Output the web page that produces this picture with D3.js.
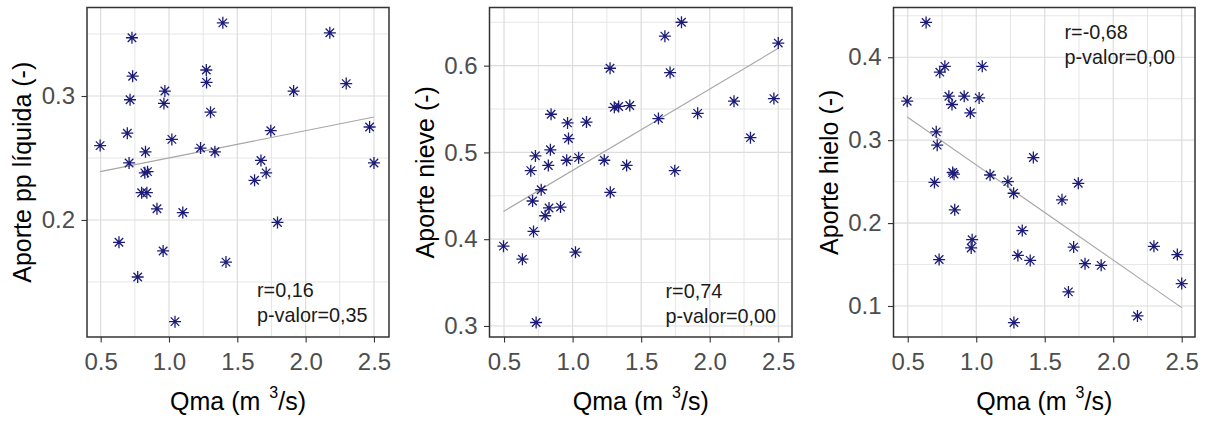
<!DOCTYPE html>
<html>
<head>
<meta charset="utf-8">
<script src="https://cdn.jsdelivr.net/npm/d3@7"></script>
<style>
  body { margin: 0; background: #fff; }
  text { font-family: "Liberation Sans", Arial, sans-serif; }
</style>
</head>
<body>
<div id="chart"></div>
<script>
// Qma (m3/s) per station, shared by the three panels
var qma = [0.496, 0.634, 0.695, 0.708, 0.715, 0.729, 0.734, 0.771, 0.800, 0.823,
           0.828, 0.838, 0.843, 0.912, 0.957, 0.963, 0.970, 1.021, 1.044, 1.101,
           1.231, 1.273, 1.275, 1.304, 1.336, 1.394, 1.417, 1.626, 1.673, 1.711,
           1.745, 1.794, 1.912, 2.177, 2.297, 2.468, 2.500];

var aporteLiquida = [0.260, 0.182, 0.270, 0.246, 0.297, 0.347, 0.316, 0.154, 0.222, 0.238,
                     0.255, 0.222, 0.239, 0.209, 0.175, 0.294, 0.304, 0.265, 0.118, 0.206,
                     0.258, 0.321, 0.311, 0.287, 0.255, 0.359, 0.166, 0.232, 0.248, 0.238,
                     0.272, 0.198, 0.304, 0.351, 0.310, 0.275, 0.246];

var aporteNieve = [0.392, 0.377, 0.479, 0.444, 0.409, 0.496, 0.304, 0.457, 0.427, 0.485,
                   0.436, 0.503, 0.544, 0.437, 0.491, 0.534, 0.516, 0.385, 0.494, 0.535,
                   0.491, 0.597, 0.454, 0.552, 0.553, 0.485, 0.554, 0.539, 0.634, 0.592,
                   0.479, 0.650, 0.545, 0.559, 0.517, 0.562, 0.626];

var aporteHielo = [0.347, 0.442, 0.249, 0.310, 0.294, 0.156, 0.382, 0.389, 0.353, 0.343,
                   0.261, 0.259, 0.216, 0.353, 0.333, 0.170, 0.180, 0.351, 0.389, 0.258,
                   0.250, 0.236, 0.080, 0.161, 0.191, 0.155, 0.279, 0.228, 0.117, 0.171,
                   0.248, 0.151, 0.149, 0.088, 0.172, 0.162, 0.127];

// linear fits (endpoints)
var fitX = [0.496, 2.5];
var fitLiquida = [0.239, 0.283];
var fitNieve = [0.432, 0.620];
var fitHielo = [0.328, 0.098];

var xTicks = [0.5, 1.0, 1.5, 2.0, 2.5];
var xMinor = [0.75, 1.25, 1.75, 2.25];
var ticksLiquida = [0.2, 0.3];
var minorLiquida = [0.15, 0.25, 0.35];
var ticksNieve = [0.3, 0.4, 0.5, 0.6];
var minorNieve = [0.35, 0.45, 0.55, 0.65];
var ticksHielo = [0.1, 0.2, 0.3, 0.4];
var minorHielo = [0.15, 0.25, 0.35, 0.45];

var yTitles = ["Aporte pp líquida (-)", "Aporte nieve (-)", "Aporte hielo (-)"];
var statLines = [["r=0,16", "p-valor=0,35"], ["r=0,74", "p-valor=0,00"], ["r=-0,68", "p-valor=0,00"]];

var W = 1211, H = 422, panelTop = 7.5, panelBottom = 337;

var panels = [
  { left: 87,    right: 389,  xDom: [0.400, 2.610], yDom: [0.1056, 0.3714], y: aporteLiquida, fit: fitLiquida,
    ticks: ticksLiquida, minor: minorLiquida, title: yTitles[0], stat: statLines[0], sx: 170, sy: 289 },
  { left: 489.5, right: 792,  xDom: [0.394, 2.600], yDom: [0.2873, 0.6670], y: aporteNieve, fit: fitNieve,
    ticks: ticksNieve, minor: minorNieve, title: yTitles[1], stat: statLines[1], sx: 176, sy: 290 },
  { left: 893.5, right: 1195, xDom: [0.396, 2.597], yDom: [0.0626, 0.4600], y: aporteHielo, fit: fitHielo,
    ticks: ticksHielo, minor: minorHielo, title: yTitles[2], stat: statLines[2], sx: 171, sy: 31 }
];

var svg = d3.select("#chart").append("svg")
    .attr("width", W)
    .attr("height", H);

var star = "M0,-6V6M-6,0H6M-4.24,-4.24L4.24,4.24M-4.24,4.24L4.24,-4.24";

panels.forEach(function(p) {
  var w = p.right - p.left, h = panelBottom - panelTop;
  var x = d3.scaleLinear().domain(p.xDom).range([0, w]);
  var y = d3.scaleLinear().domain(p.yDom).range([h, 0]);

  var g = svg.append("g")
      .attr("transform", "translate(" + p.left + "," + panelTop + ")");

  // minor grid
  g.selectAll(".vminor").data(xMinor).enter().append("line")
      .attr("x1", d => x(d)).attr("x2", d => x(d))
      .attr("y1", 0).attr("y2", h)
      .attr("stroke", "#e3e3e3").attr("stroke-width", 0.9);
  g.selectAll(".hminor").data(p.minor).enter().append("line")
      .attr("y1", d => y(d)).attr("y2", d => y(d))
      .attr("x1", 0).attr("x2", w)
      .attr("stroke", "#e3e3e3").attr("stroke-width", 0.9);
  // major grid
  g.selectAll(".vmajor").data(xTicks).enter().append("line")
      .attr("x1", d => x(d)).attr("x2", d => x(d))
      .attr("y1", 0).attr("y2", h)
      .attr("stroke", "#dcdcdc").attr("stroke-width", 1.2);
  g.selectAll(".hmajor").data(p.ticks).enter().append("line")
      .attr("y1", d => y(d)).attr("y2", d => y(d))
      .attr("x1", 0).attr("x2", w)
      .attr("stroke", "#dcdcdc").attr("stroke-width", 1.2);

  // fit line
  var line = d3.line().x(d => x(d[0])).y(d => y(d[1]));
  g.append("path")
      .datum(fitX.map((v, i) => [v, p.fit[i]]))
      .attr("d", line)
      .attr("fill", "none")
      .attr("stroke", "#a6a6a6")
      .attr("stroke-width", 1.1);

  // points
  g.selectAll(".pt").data(qma).enter().append("path")
      .attr("transform", (d, i) => "translate(" + x(d) + "," + y(p.y[i]) + ")")
      .attr("d", star)
      .attr("fill", "none")
      .attr("stroke", "#1c1c78")
      .attr("stroke-width", 1.3);

  // stats
  var st = g.append("text")
      .attr("x", p.sx).attr("y", p.sy)
      .attr("font-size", "19.8px")
      .attr("fill", "#1a1a1a");
  st.append("tspan").attr("x", p.sx).text(p.stat[0]);
  st.append("tspan").attr("x", p.sx).attr("dy", 25.5).text(p.stat[1]);

  // border
  g.append("rect")
      .attr("width", w).attr("height", h)
      .attr("fill", "none")
      .attr("stroke", "#333")
      .attr("stroke-width", 1.5);

  // axes
  var xa = g.append("g")
      .attr("transform", "translate(0," + h + ")")
      .call(d3.axisBottom(x).tickValues(xTicks).tickFormat(d3.format(".1f")).tickSize(5.5).tickPadding(10.5));
  var ya = g.append("g")
      .call(d3.axisLeft(y).tickValues(p.ticks).tickFormat(d3.format(".1f")).tickSize(5.5).tickPadding(6.5));
  [xa, ya].forEach(function(a) {
    a.select(".domain").remove();
    a.selectAll("line").attr("stroke", "#333").attr("stroke-width", 1.1);
    a.selectAll("text")
        .attr("fill", "#4d4d4d")
        .style("font-size", "24px")
        .style("font-family", "'Liberation Sans', Arial, sans-serif");
  });

  // axis titles
  var xt = g.append("text")
      .attr("x", w / 2).attr("y", 410 - panelTop)
      .attr("text-anchor", "middle")
      .attr("font-size", "25px")
      .attr("fill", "#000");
  xt.append("tspan").text("Qma (m");
  xt.append("tspan").attr("dx", 9).attr("dy", -12).attr("font-size", "16px").text("3");
  xt.append("tspan").attr("dy", 12).text("/s)");

  g.append("text")
      .attr("transform", "translate(-56," + (h / 2) + ") rotate(-90)")
      .attr("text-anchor", "middle")
      .attr("font-size", "25px")
      .attr("fill", "#000")
      .text(p.title);
});
</script>
</body>
</html>
